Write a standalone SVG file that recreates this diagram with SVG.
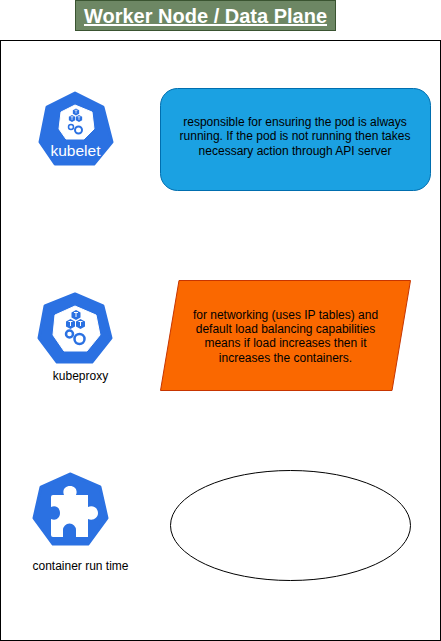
<svg xmlns="http://www.w3.org/2000/svg" width="441" height="641" viewBox="0 0 441 641">
<defs>
<style>
text{font-family:"Liberation Sans",Arial,sans-serif;text-anchor:middle}
.d{font-size:12px;fill:#000}
.k{fill:#2b71e2;stroke:#2b71e2;stroke-width:3;stroke-linejoin:round}
.w{fill:#fff;stroke:#fff;stroke-linejoin:round}
.c{fill:#2b71e2}
.g{fill:#fff;stroke:#2b71e2}
</style>
<g id="cube"><path class="c" d="M0-5 4.500-2.500V2.500L0 5-4.500 2.500V-2.500Z"/><path d="M-2-2.500H2M0-2.500V2" stroke="#fff" stroke-width="1" fill="none"/></g>
</defs>
<rect width="441" height="641" fill="#fff"/>
<g id="title"><rect x="75.500" y="0.500" width="260" height="30" fill="#6d8764" stroke="#3a5431"/><text x="205.500" y="23" font-size="20" font-weight="700" fill="#fff" text-decoration="underline">Worker Node / Data Plane</text></g>
<g id="frame"><rect x="0.500" y="40.500" width="440" height="600" fill="#fff" stroke="#000"/></g>
<g id="kubelet-icon">
<path class="k" d="M75 93 103 107 112 142 94 164H55L40 142 47 107Z"/>
<path class="w" d="M75 105 92 112 94 129 84 139H66L59 129 61 112Z"/>
<use href="#cube" transform="translate(76 112) scale(.7)"/>
<use href="#cube" transform="translate(72 118.500) scale(.7)"/>
<use href="#cube" transform="translate(79 118.500) scale(.7)"/>
<circle class="g" cx="71" cy="127" r="2.500" stroke-width="1.500"/>
<circle class="g" cx="78.500" cy="130" r="3.500" stroke-width="2"/>
<text x="75.500" y="156" font-size="15.500" fill="#fff">kubelet</text>
</g>
<g id="kubelet-note"><rect x="160.500" y="88.500" width="270" height="102" rx="17" fill="#1ba1e2" stroke="#006eaf"/><text class="d"><tspan x="295" y="126">responsible for ensuring the pod is always</tspan><tspan x="295" y="140">running. If the pod is not running then takes</tspan><tspan x="295" y="155">necessary action through API server</tspan></text></g>
<g id="kubeproxy-icon">
<path class="k" d="M75 294 103 306 111 338 92 362H57L39 338 45 306Z"/>
<path class="w" d="M75 306 96 315 100 335 87 351H64L53 335 55 315Z"/>
<use href="#cube" x="76" y="315"/>
<use href="#cube" x="70.500" y="324"/>
<use href="#cube" x="80.500" y="324"/>
<circle class="g" cx="69.500" cy="334" r="3.500" stroke-width="2.500"/>
<circle class="g" cx="79.500" cy="339" r="5" stroke-width="2.500"/>
<text class="d" x="80.500" y="380">kubeproxy</text>
</g>
<g id="kubeproxy-note"><path d="M160.500 390.500 179 280.500H410.500L392 390.500Z" fill="#fa6800" stroke="#c73500"/><text class="d"><tspan x="285.500" y="319">for networking (uses IP tables) and</tspan><tspan x="285.500" y="333">default load balancing capabilities</tspan><tspan x="285.500" y="347">means if load increases then it</tspan><tspan x="285.500" y="362">increases the containers.</tspan></text></g>
<g id="runtime-icon">
<path class="k" d="M70 474 100 487 107 518 88 544H53L34 518 41 487Z"/>
<path d="M53 495H64C62 490 65 486 70 486 75 486 78 490 76 495H88V507C93 505 98 508 98 513 98 518 93 521 88 519V537H76V530A6.500 6.500 0 0 0 63 530V537H53Q51 537 51 535V519C56 521 60 518 60 513 60 508 56 505 51 507V497Q51 495 53 495Z" fill="#fff"/>
<text class="d" x="80.500" y="570">container run time</text>
</g>
<g id="runtime-ellipse"><ellipse cx="290.500" cy="525.500" rx="120" ry="55" fill="#fff" stroke="#000"/></g>
<g id="connectors"/>
</svg>
